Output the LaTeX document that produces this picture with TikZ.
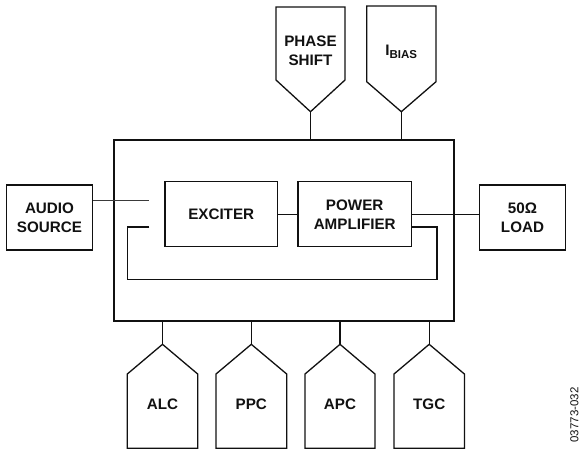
\documentclass[tikz,border=0pt]{standalone}
\usepackage{fontspec}
\setmainfont{Liberation Sans}
\usepackage{xcolor}
\definecolor{ink}{HTML}{111111}
\definecolor{wiregray}{HTML}{3A3A3A}

\begin{document}
\begin{tikzpicture}[
  x=1pt, y=-1pt,
  font=\fontsize{15.2}{19}\selectfont\bfseries,
  chip/.style={draw=ink, line width=2pt, minimum width=340.5pt, minimum height=180.5pt},
  block/.style={draw=ink, line width=1.3pt, text=ink, align=center, inner sep=0pt, minimum height=65pt},
  pinlabel/.style={text=ink, align=center, inner sep=0pt},
  pinline/.style={draw=ink, line width=1.3pt},
  link/.style={ink, line width=1.3pt},
  thinlink/.style={wiregray, line width=1pt}
]
  \useasboundingbox (0,0) rectangle (580,451);

  \node[chip] (chip) at (283.75,230.25) {};
  \node[block, minimum width=112.3pt] (exc) at (221.2,214.2) {EXCITER};
  \node[block, minimum width=113.3pt] (pa)  at (354.7,214.2) {POWER\\AMPLIFIER};
  \node[block, minimum width=85.6pt] (audio) at (49.5,217.5) {AUDIO\\SOURCE};
  \node[block, minimum width=86.4pt] (load)  at (522.5,217.5) {50Ω\\LOAD};

  \node[pinlabel] (phase) at (310.5,50.5) {PHASE\\SHIFT};
  \node[pinlabel] (ibias) at (401.3,52) {I\raisebox{-3.5pt}{\fontsize{11.5}{12}\selectfont BIAS}};
  \coordinate (phasetip) at (310.5,111.7);
  \coordinate (ibiastip) at (401.3,111.7);
  \draw[pinline] (276,7) -- (345,7) -- (345,80) -- (phasetip) -- (276,80) -- cycle;
  \draw[pinline] (366.7,6) -- (436,6) -- (436,81.7) -- (ibiastip) -- (366.7,81.7) -- cycle;

  \node[pinlabel] (alc) at (162.5,404) {ALC};
  \node[pinlabel] (ppc) at (251.3,404) {PPC};
  \node[pinlabel] (apc) at (340,404) {APC};
  \node[pinlabel] (tgc) at (429.2,404) {TGC};
  \coordinate (alctip) at (162.5,344.3);
  \coordinate (ppctip) at (251.3,344.3);
  \coordinate (apctip) at (340,344.3);
  \coordinate (tgctip) at (429.2,344.3);
  \draw[pinline] (127.3,448.3) -- (127.3,374) -- (alctip) -- (197.7,374) -- (197.7,448.3) -- cycle;
  \draw[pinline] (216,448.3) -- (216,374) -- (ppctip) -- (286.7,374) -- (286.7,448.3) -- cycle;
  \draw[pinline] (305,448.3) -- (305,374) -- (apctip) -- (375,374) -- (375,448.3) -- cycle;
  \draw[pinline] (394,448.3) -- (394,374) -- (tgctip) -- (464.4,374) -- (464.4,448.3) -- cycle;

  \node[font=\fontsize{11.5}{12}\selectfont\mdseries, text=ink, rotate=90, inner sep=0pt] (figno) at (574.5,415) {03773-032};

  \coordinate (audioend) at (149.3,200);
  \coordinate (fbin) at (149.3,227);
  \coordinate (fbl) at (127.7,279.3);
  \coordinate (fbr) at (437,279.3);

  \draw[thinlink] (audio.east |- audioend) -- (audioend);
  \draw[link] (fbin) -| (fbl) -- (fbr) |- (pa.east |- fbin);
  \draw[link] (exc.east) -- (pa.west);
  \draw[link] (pa.east) -- (pa.east -| load.west);
  \draw[link] (phasetip) -- (phasetip |- chip.north);
  \draw[link] (ibiastip) -- (ibiastip |- chip.north);
  \draw[link] (alctip) -- (alctip |- chip.south);
  \draw[link] (ppctip) -- (ppctip |- chip.south);
  \draw[link] (apctip) -- (apctip |- chip.south);
  \draw[link] (tgctip) -- (tgctip |- chip.south);
\end{tikzpicture}
\end{document}
